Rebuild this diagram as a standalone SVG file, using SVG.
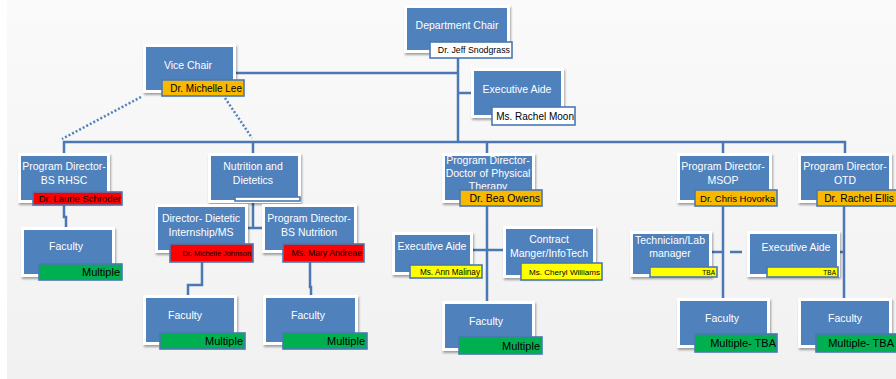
<svg xmlns="http://www.w3.org/2000/svg" width="896" height="379" viewBox="0 0 896 379">
<defs>
<linearGradient id="bg" x1="0" y1="0" x2="0" y2="1"><stop offset="0" stop-color="#fafafa"/><stop offset="1" stop-color="#f1f1f1"/></linearGradient>
<filter id="sh" x="-10%" y="-10%" width="130%" height="140%"><feDropShadow dx="1" dy="2" stdDeviation="1.2" flood-color="#000" flood-opacity="0.35"/></filter>
<style>
.o{fill:#fff;filter:url(#sh)}
.i{fill:#4f81bd}
.t{font-family:"Liberation Sans",Arial,sans-serif;font-size:10.5px;fill:#fff;text-anchor:middle}
.l{stroke:#4a78b4;stroke-width:1.6}
.lt{font-family:"Liberation Sans",Arial,sans-serif;font-size:9.5px;fill:#000;text-anchor:end}
.m{font-size:11px}
.w{fill:#fff}.or{fill:#f6b900}.rd{fill:#ff0000}.ye{fill:#ffff00}.gr{fill:#00b050}
.c{fill:none;stroke:#4a78b4;stroke-width:2.5}
.d{fill:none;stroke:#4f81bd;stroke-width:2.5;stroke-dasharray:2 2}
</style>
</defs>
<rect x="0" y="0" width="896" height="379" fill="#fff"/>
<rect x="7" y="0" width="889" height="379" fill="url(#bg)"/>

<g id="connectors">
<path class="c" d="M458,53 V142"/>
<path class="c" d="M236,73 H458"/>
<path class="c" d="M458,93 H471"/>
<path class="c" d="M64,153 V142 H845 V153"/>
<path class="c" d="M253,142 V153"/>
<path class="c" d="M487,142 V153"/>
<path class="c" d="M723,142 V153"/>
<path class="d" d="M141,97 L62,139"/>
<path class="d" d="M225,98 L252,138"/>
<path class="c" d="M64,205 V217 H66 V227"/>
<path class="c" d="M253,203 V228 M248,228 H262"/>
<path class="c" d="M202,262 V285 H188 V295"/>
<path class="c" d="M310,262 V287 H311 V295"/>
<path class="c" d="M487,206 V301 M473,250 H503"/>
<path class="c" d="M723,206 V298 M712,252 H723 M730,252 H742"/>
<path class="c" d="M844,206 V298 M840,252 H844"/>
</g>

<g id="dept-chair">
<rect class="o" x="404" y="5" width="106" height="48"/><rect class="i" x="407" y="8" width="100" height="42"/>
<text class="t" x="457" y="29">Department Chair</text>
<rect class="l w" x="430" y="42" width="82" height="16"/><text class="lt" x="510" y="53" style="font-size:8.8px">Dr. Jeff Snodgrass</text>
</g>
<g id="vice-chair">
<rect class="o" x="143" y="44" width="93" height="49"/><rect class="i" x="146" y="47" width="87" height="43"/>
<text class="t" x="188" y="69">Vice Chair</text>
<rect class="l or" x="162" y="80" width="82" height="16"/><text class="lt" x="242" y="92" style="font-size:10px">Dr. Michelle Lee</text>
</g>
<g id="exec-aide-top">
<rect class="o" x="471" y="68" width="93" height="50"/><rect class="i" x="474" y="71" width="87" height="44"/>
<text class="t" x="517" y="93">Executive Aide</text>
<rect class="l w" x="492" y="107" width="83" height="18"/><text class="lt" x="574" y="120" style="font-size:10px">Ms. Rachel Moon</text>
</g>
<g id="rhsc">
<rect class="o" x="18" y="153" width="92" height="50"/><rect class="i" x="21" y="156" width="86" height="44"/>
<text class="t" x="64" y="170">Program Director-</text><text class="t" x="64" y="184">BS RHSC</text>
<rect class="l rd" x="33" y="192" width="89" height="13"/><text class="lt" x="121" y="202">Dr. Laurie Schroder</text>
</g>
<g id="rhsc-faculty">
<rect class="o" x="21" y="227" width="94" height="50"/><rect class="i" x="24" y="230" width="88" height="44"/>
<text class="t" x="66" y="250">Faculty</text>
<rect class="l gr" x="39" y="264" width="83" height="16"/><text class="lt m" x="120" y="276">Multiple</text>
</g>
<g id="nutrition">
<rect class="o" x="208" y="153" width="93" height="50"/><rect class="i" x="211" y="156" width="87" height="44"/>
<text class="t" x="253" y="170">Nutrition and</text><text class="t" x="253" y="184">Dietetics</text>
<rect class="l w" x="235" y="197" width="65" height="4"/>
</g>
<g id="dietetic-internship">
<rect class="o" x="155" y="204" width="93" height="49"/><rect class="i" x="158" y="207" width="87" height="43"/>
<text class="t" x="201" y="222">Director- Dietetic</text><text class="t" x="201" y="236">Internship/MS</text>
<rect class="l rd" x="170" y="244" width="83" height="18"/><text class="lt" x="251" y="256" style="font-size:7.4px">Dr. Michelle Johnson</text>
</g>
<g id="bs-nutrition">
<rect class="o" x="262" y="204" width="95" height="49"/><rect class="i" x="265" y="207" width="89" height="43"/>
<text class="t" x="309" y="222">Program Director-</text><text class="t" x="309" y="236">BS Nutrition</text>
<rect class="l rd" x="283" y="244" width="81" height="18"/><text class="lt" x="362" y="256" style="font-size:8.7px">Ms. Mary Andreae</text>
</g>
<g id="dietetic-faculty">
<rect class="o" x="143" y="295" width="94" height="50"/><rect class="i" x="146" y="298" width="88" height="44"/>
<text class="t" x="185" y="319">Faculty</text>
<rect class="l gr" x="160" y="333" width="85" height="16"/><text class="lt m" x="243" y="345">Multiple</text>
</g>
<g id="nutrition-faculty">
<rect class="o" x="263" y="295" width="95" height="50"/><rect class="i" x="266" y="298" width="89" height="44"/>
<text class="t" x="308" y="319">Faculty</text>
<rect class="l gr" x="283" y="333" width="84" height="16"/><text class="lt m" x="365" y="345">Multiple</text>
</g>
<g id="pt">
<rect class="o" x="442" y="153" width="93" height="50"/><rect class="i" x="445" y="156" width="87" height="44"/>
<text class="t" x="488" y="164">Program Director-</text><text class="t" x="488" y="177">Doctor of Physical</text><text class="t" x="488" y="190">Therapy</text>
<rect class="l or" x="460" y="190" width="82" height="16"/><text class="lt" x="540" y="202" style="font-size:10.5px">Dr. Bea Owens</text>
</g>
<g id="pt-exec-aide">
<rect class="o" x="392" y="232" width="81" height="43"/><rect class="i" x="395" y="235" width="75" height="37"/>
<text class="t" x="432" y="250">Executive Aide</text>
<rect class="l ye" x="410" y="265" width="72" height="13"/><text class="lt" x="480" y="274.5" style="font-size:8.2px">Ms. Ann Malinay</text>
</g>
<g id="contract">
<rect class="o" x="503" y="226" width="93" height="52"/><rect class="i" x="506" y="229" width="87" height="46"/>
<text class="t" x="549" y="243">Contract</text><text class="t" x="549" y="257">Manger/InfoTech</text>
<rect class="l ye" x="521" y="263" width="81" height="17"/><text class="lt" x="600" y="274.5" style="font-size:8.1px">Ms. Cheryl Williams</text>
</g>
<g id="pt-faculty">
<rect class="o" x="442" y="301" width="93" height="50"/><rect class="i" x="445" y="304" width="87" height="44"/>
<text class="t" x="486" y="325">Faculty</text>
<rect class="l gr" x="459" y="337" width="83" height="17"/><text class="lt m" x="540" y="349.5">Multiple</text>
</g>
<g id="msop">
<rect class="o" x="677" y="153" width="95" height="50"/><rect class="i" x="680" y="156" width="89" height="44"/>
<text class="t" x="723" y="170">Program Director-</text><text class="t" x="723" y="184">MSOP</text>
<rect class="l or" x="695" y="190" width="82" height="16"/><text class="lt" x="775" y="202">Dr. Chris Hovorka</text>
</g>
<g id="otd">
<rect class="o" x="798" y="153" width="94" height="50"/><rect class="i" x="801" y="156" width="88" height="44"/>
<text class="t" x="845" y="170">Program Director-</text><text class="t" x="845" y="184">OTD</text>
<rect class="l or" x="817" y="190" width="85" height="16"/><text class="lt" x="894" y="202" style="font-size:10.3px">Dr. Rachel Ellis</text>
</g>
<g id="tech-lab">
<rect class="o" x="630" y="231" width="82" height="46"/><rect class="i" x="633" y="234" width="76" height="40"/>
<text class="t" x="670" y="244">Technician/Lab</text><text class="t" x="670" y="257">manager</text>
<rect class="l ye" x="650" y="267" width="67" height="10"/><text class="lt" x="715" y="274.5" style="font-size:6.5px">TBA</text>
</g>
<g id="msop-exec-aide">
<rect class="o" x="747" y="231" width="93" height="46"/><rect class="i" x="750" y="234" width="87" height="40"/>
<text class="t" x="796" y="251">Executive Aide</text>
<rect class="l ye" x="767" y="267" width="71" height="10"/><text class="lt" x="836" y="274.5" style="font-size:6.5px">TBA</text>
</g>
<g id="msop-faculty">
<rect class="o" x="677" y="298" width="93" height="50"/><rect class="i" x="680" y="301" width="87" height="44"/>
<text class="t" x="722" y="322">Faculty</text>
<rect class="l gr" x="695" y="334" width="82" height="18"/><text class="lt m" x="776" y="347">Multiple- TBA</text>
</g>
<g id="otd-faculty">
<rect class="o" x="798" y="298" width="94" height="50"/><rect class="i" x="801" y="301" width="88" height="44"/>
<text class="t" x="845" y="322">Faculty</text>
<rect class="l gr" x="816" y="334" width="85" height="18"/><text class="lt m" x="894" y="347">Multiple- TBA</text>
</g>
</svg>
